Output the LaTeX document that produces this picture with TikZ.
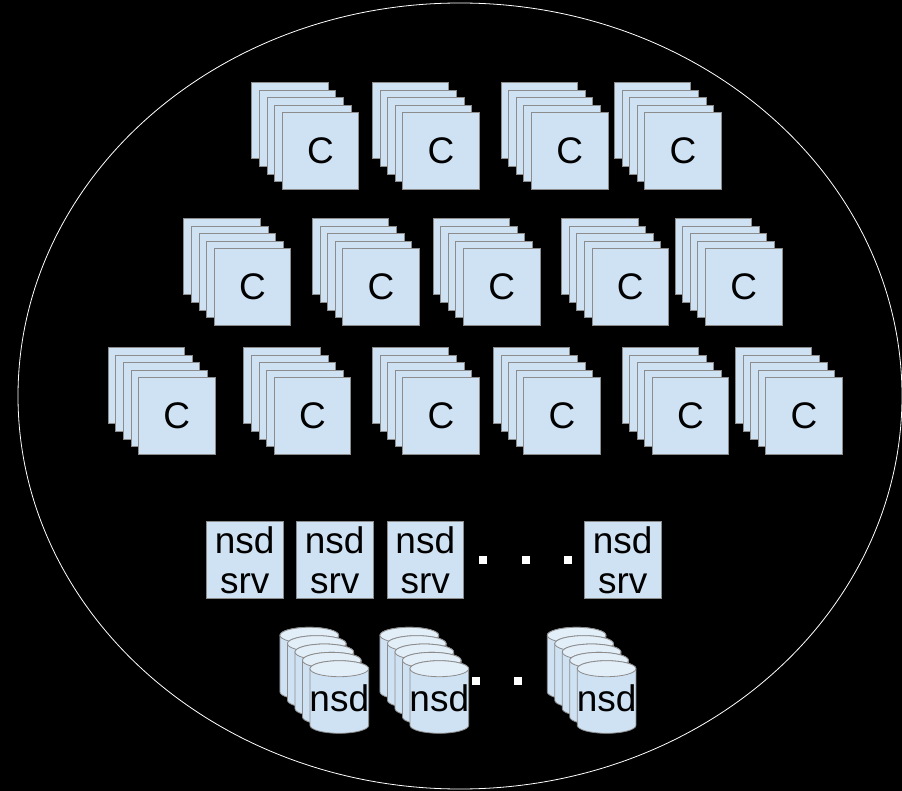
\documentclass[tikz,border=0pt]{standalone}
\usepackage{fontspec}
\setmainfont{Liberation Sans}
\definecolor{boxblue}{HTML}{CFE2F3}
\definecolor{boxline}{HTML}{8C8C8C}
\definecolor{disktop}{HTML}{E2EEF8}
\tikzset{
  card/.style={draw=boxline, fill=boxblue, line width=0.8pt, minimum size=76.5pt, inner sep=0pt},
  bigtext/.style={font=\fontsize{37}{40}\selectfont},
  srvbox/.style={card, bigtext, align=center},
  gapdot/.style={fill=white, minimum size=8pt, inner sep=0pt},
  disk/.style={draw=boxline, fill=boxblue, line width=0.8pt},
}
\begin{document}
\begin{tikzpicture}[x=1pt,y=-1pt]
	    
	    \fill[black] (0,0) rectangle (902,791);
	    \useasboundingbox (0,0) rectangle (902,791);
	    \draw[white, line width=0.8pt] (460,396) ellipse (442 and 393);
	    
	    % compute stacks, row by row
	    \foreach \x/\n in {320.4/1, 441/2, 569.7/3, 683/4} {
	      \foreach \i in {4,3,2,1} \node[card] at (\x-7.6*\i,151-7.6*\i) {};
	      \node[card, bigtext] (ca\n) at (\x,151) {C};
	    }
	    \foreach \x/\n in {252.5/1, 381/2, 501.7/3, 630.2/4, 743.7/5} {
	      \foreach \i in {4,3,2,1} \node[card] at (\x-7.6*\i,287-7.6*\i) {};
	      \node[card, bigtext] (cb\n) at (\x,287) {C};
	    }
	    \foreach \x/\n in {176.8/1, 312.5/2, 441/3, 562/4, 690.6/5, 804/6} {
	      \foreach \i in {4,3,2,1} \node[card] at (\x-7.6*\i,416-7.6*\i) {};
	      \node[card, bigtext] (cc\n) at (\x,416) {C};
	    }
	    
	    % nsd servers
	    \node[srvbox] (s1) at (244.7,560) {nsd\\srv};
	    \node[srvbox] (s2) at (334.7,560) {nsd\\srv};
	    \node[srvbox] (s3) at (425.3,560) {nsd\\srv};
	    \node[srvbox] (s4) at (622.7,560) {nsd\\srv};
	    \node[gapdot] (g1) at (483,560) {};
	    \node[gapdot] (g2) at (525.5,560) {};
	    \node[gapdot] (g3) at (568,560) {};
	    
	    % disks
	    \foreach \x/\n in {339.3/1, 439.3/2, 606.6/3} {
	      \foreach \i in {4,3,2,1,0} {
	        \draw[disk] (\x-7.5*\i-29.35,668.7-8.35*\i) -- (\x-7.5*\i-29.35,725.3-8.35*\i)
	          arc (180:0:29.35 and 8) -- (\x-7.5*\i+29.35,668.7-8.35*\i)
	          arc (0:-180:29.35 and 8) -- cycle;
	        \draw[disk, fill=disktop] (\x-7.5*\i,668.7-8.35*\i) ellipse (29.35 and 8);
	      }
	      \node[bigtext, anchor=base, inner sep=0pt] (d\n) at (\x,711.7) {nsd};
	    }
	    \node[gapdot] (g4) at (475.5,681.3) {};
	    \node[gapdot] (g5) at (518,681.3) {};
	    
\end{tikzpicture}
\end{document}
